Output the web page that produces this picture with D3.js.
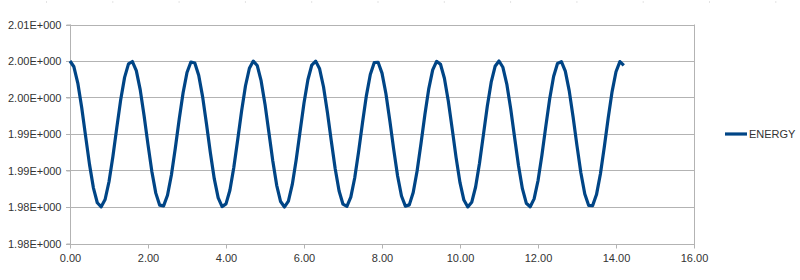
<!DOCTYPE html>
<html lang="en">
<head>
    <meta charset="UTF-8">
    <title>ENERGY</title>
    <script src="https://d3js.org/d3.v7.min.js"></script>
    <style>
        body {
            margin: 0;
            background: #fff;
        }
        svg {
            display: block;
            font-family: 'Liberation Sans', Arial, sans-serif;
        }
        .grid line {
            stroke: #b3b3b3;
            stroke-width: 1px;
        }
        .axis path, .axis line {
            stroke: #b3b3b3;
        }
        .axis text, .legend text {
            font-size: 11px;
            fill: #333;
        }
    </style>
</head>
<body>
    <svg id="chart"></svg>

    <script>
        // time samples (x) and energy values (y)
        const time = [
            0.0, 0.1, 0.2, 0.3, 0.4, 0.5, 0.6, 0.7, 0.8, 0.9,
            1.0, 1.1, 1.2, 1.3, 1.4, 1.5, 1.6, 1.7, 1.8, 1.9,
            2.0, 2.1, 2.2, 2.3, 2.4, 2.5, 2.6, 2.7, 2.8, 2.9,
            3.0, 3.1, 3.2, 3.3, 3.4, 3.5, 3.6, 3.7, 3.8, 3.9,
            4.0, 4.1, 4.2, 4.3, 4.4, 4.5, 4.6, 4.7, 4.8, 4.9,
            5.0, 5.1, 5.2, 5.3, 5.4, 5.5, 5.6, 5.7, 5.8, 5.9,
            6.0, 6.1, 6.2, 6.3, 6.4, 6.5, 6.6, 6.7, 6.8, 6.9,
            7.0, 7.1, 7.2, 7.3, 7.4, 7.5, 7.6, 7.7, 7.8, 7.9,
            8.0, 8.1, 8.2, 8.3, 8.4, 8.5, 8.6, 8.7, 8.8, 8.9,
            9.0, 9.1, 9.2, 9.3, 9.4, 9.5, 9.6, 9.7, 9.8, 9.9,
            10.0, 10.1, 10.2, 10.3, 10.4, 10.5, 10.6, 10.7, 10.8, 10.9,
            11.0, 11.1, 11.2, 11.3, 11.4, 11.5, 11.6, 11.7, 11.8, 11.9,
            12.0, 12.1, 12.2, 12.3, 12.4, 12.5, 12.6, 12.7, 12.8, 12.9,
            13.0, 13.1, 13.2, 13.3, 13.4, 13.5, 13.6, 13.7, 13.8, 13.9,
            14.0, 14.1, 14.2
        ];
        const energy = [
            2.00500, 2.00421, 2.00197, 1.99862, 1.99471, 1.99084, 1.98763, 1.98558, 1.98502, 1.98603,
            1.98846, 1.99193, 1.99587, 1.99969, 2.00276, 2.00460, 2.00493, 2.00369, 2.00108, 1.99751,
            1.99354, 1.98982, 1.98690, 1.98525, 1.98515, 1.98660, 1.98938, 1.99304, 1.99703, 2.00066,
            2.00343, 2.00486, 2.00473, 2.00306, 2.00012, 1.99637, 1.99240, 1.98885, 1.98626, 1.98506,
            1.98542, 1.98730, 1.99040, 1.99421, 1.99816, 2.00161, 2.00401, 2.00499, 2.00439, 2.00231,
            1.99909, 1.99520, 1.99129, 1.98797, 1.98575, 1.98500, 1.98582, 1.98809, 1.99147, 1.99538,
            1.99925, 2.00243, 2.00445, 2.00498, 2.00393, 2.00147, 1.99799, 1.99404, 1.99024, 1.98719,
            1.98538, 1.98508, 1.98636, 1.98897, 1.99257, 1.99655, 2.00026, 2.00315, 2.00477, 2.00483,
            2.00334, 2.00054, 1.99686, 1.99289, 1.98925, 1.98651, 1.98512, 1.98529, 1.98698, 1.98994,
            1.99370, 1.99767, 2.00122, 2.00378, 2.00495, 2.00455, 2.00264, 1.99953, 1.99570, 1.99176,
            1.98833, 1.98595, 1.98501, 1.98564, 1.98774, 1.99100, 1.99488, 1.99879, 2.00210, 2.00428,
            2.00500, 2.00414, 2.00184, 1.99845, 1.99453, 1.99068, 1.98751, 1.98552, 1.98503, 1.98611,
            1.98860, 1.99210, 1.99604, 1.99984, 2.00287, 2.00465, 2.00491, 2.00361, 2.00094, 1.99734,
            1.99337, 1.98966, 1.98679, 1.98521, 1.98519, 1.98670, 1.98953, 1.99321, 1.99720, 2.00081,
            2.00353, 2.00492, 2.00440
        ];

        const seriesName = "ENERGY";
        const xTicks = [0, 2, 4, 6, 8, 10, 12, 14, 16];
        const xTickLabels = ["0.00", "2.00", "4.00", "6.00", "8.00", "10.00", "12.00", "14.00", "16.00"];
        const yTicks = [1.980, 1.985, 1.990, 1.995, 2.000, 2.005, 2.010];
        const yTickLabels = ["1.98E+000", "1.98E+000", "1.99E+000", "1.99E+000", "2.00E+000", "2.00E+000", "2.01E+000"];

        const width = 800, height = 280;
        const plot = { left: 70, right: 694, top: 24.5, bottom: 243.5 };

        const svg = d3.select("#chart")
            .attr("width", width)
            .attr("height", height);

        // faint dotted strip along the top edge
        svg.append("g")
            .selectAll("rect")
            .data(d3.range(12))
            .enter().append("rect")
            .attr("x", i => 46 + i * 66.3)
            .attr("y", 1)
            .attr("width", 1)
            .attr("height", 2)
            .attr("fill", "#e4e4e4");

        const x = d3.scaleLinear().domain([0, 16]).range([plot.left, plot.right]);
        const y = d3.scaleLinear().domain([1.98, 2.01]).range([plot.bottom, plot.top]);

        // horizontal gridlines
        svg.append("g")
            .attr("class", "grid")
            .selectAll("line")
            .data(yTicks)
            .enter().append("line")
            .attr("x1", plot.left - 4)
            .attr("x2", plot.right)
            .attr("y1", d => Math.round(y(d)) + 0.5)
            .attr("y2", d => Math.round(y(d)) + 0.5);

        // right border
        svg.append("line")
            .attr("x1", plot.right + 0.5).attr("x2", plot.right + 0.5)
            .attr("y1", plot.top).attr("y2", plot.bottom + 4)
            .attr("stroke", "#b3b3b3");

        const yAxis = d3.axisLeft(y)
            .tickValues(yTicks)
            .tickFormat((d, i) => yTickLabels[i])
            .tickSize(4)
            .tickPadding(5);

        svg.append("g")
            .attr("class", "axis")
            .attr("transform", `translate(${plot.left + 0.5},0)`)
            .call(yAxis)
            .call(g => g.select(".domain").attr("d", `M0,${plot.top}V${plot.bottom + 4}`));

        const xAxis = d3.axisBottom(x)
            .tickValues(xTicks)
            .tickFormat((d, i) => xTickLabels[i])
            .tickSize(4)
            .tickPadding(6);

        svg.append("g")
            .attr("class", "axis")
            .attr("transform", `translate(0,${Math.round(y(1.98)) + 0.5})`)
            .call(xAxis)
            .call(g => g.select(".domain").attr("d", `M${plot.left},0H${plot.right}`));

        svg.selectAll(".axis text").attr("font-family", null);

        const line = d3.line()
            .x((d, i) => x(time[i]))
            .y(d => y(d));

        svg.append("path")
            .datum(energy)
            .attr("fill", "none")
            .attr("stroke", "#004586")
            .attr("stroke-width", 3.2)
            .attr("stroke-linejoin", "round")
            .attr("d", line);

        // legend
        const legend = svg.append("g")
            .attr("class", "legend")
            .attr("transform", "translate(725,134)");

        legend.append("line")
            .attr("x1", 0).attr("x2", 22)
            .attr("stroke", "#004586")
            .attr("stroke-width", 3.2);

        legend.append("text")
            .attr("x", 24)
            .attr("dy", "0.35em")
            .text(seriesName);
    </script>
</body>
</html>
